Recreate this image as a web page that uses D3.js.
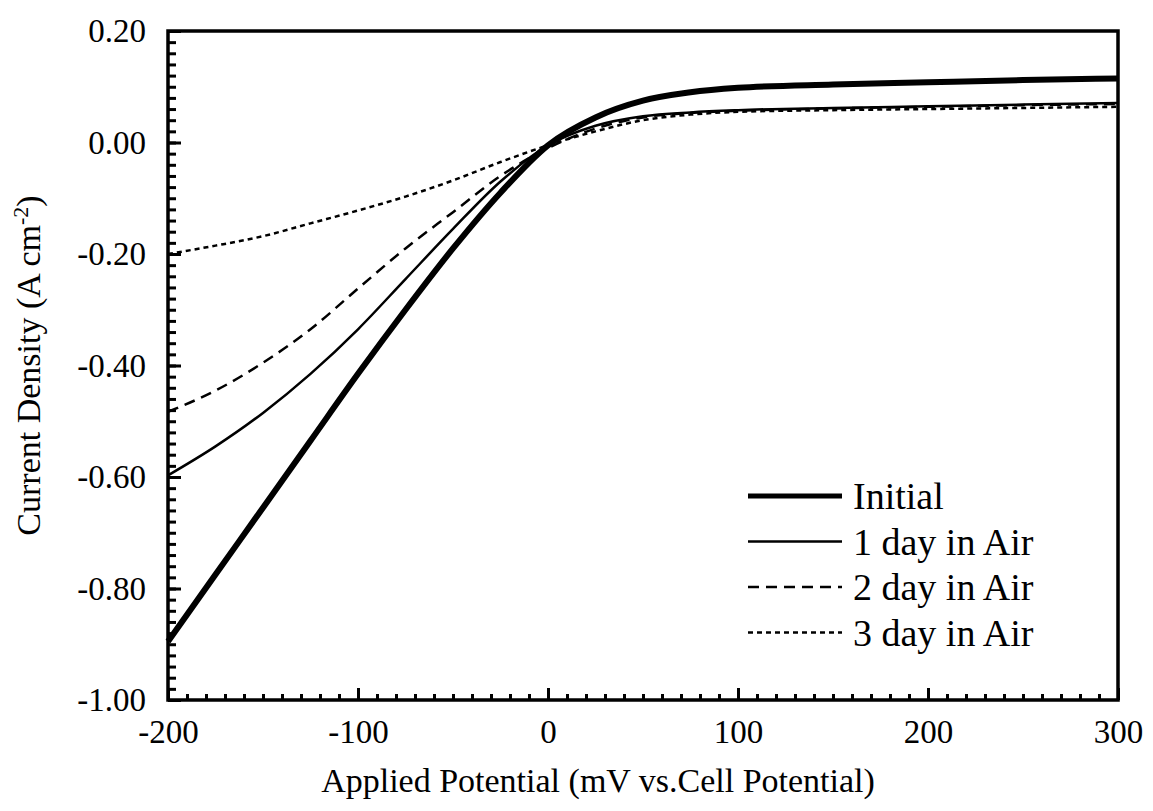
<!DOCTYPE html>
<html>
<head>
<meta charset="utf-8">
<script src="https://cdn.jsdelivr.net/npm/d3@7"></script>
<style>
  body { margin: 0; background: #fff; overflow: hidden; }
  svg { display: block; }
  text { font-family: "Liberation Serif", "Times New Roman", serif; fill: #000; }
</style>
</head>
<body>
<div id="chart"></div>
<script>
// potentials (mV) where the curves were read
const potentials = [-200, -175, -150, -125, -100, -75, -50, -25, 0, 25, 50, 75, 100, 150, 200, 250, 300];

// current density (A cm-2) for each run
const initial  = [-0.895, -0.775, -0.655, -0.535, -0.415, -0.30, -0.19, -0.09, -0.005, 0.045, 0.075, 0.090, 0.098, 0.104, 0.108, 0.112, 0.115];
const day1     = [-0.597, -0.545, -0.485, -0.415, -0.335, -0.245, -0.155, -0.07, -0.005, 0.03, 0.047, 0.054, 0.058, 0.062, 0.065, 0.068, 0.071];
const day2     = [-0.483, -0.445, -0.395, -0.335, -0.262, -0.19, -0.125, -0.06, -0.01, 0.025, 0.045, 0.053, 0.057, 0.061, 0.064, 0.067, 0.069];
const day3     = [-0.200, -0.185, -0.168, -0.145, -0.122, -0.097, -0.068, -0.035, -0.005, 0.02, 0.04, 0.05, 0.055, 0.058, 0.06, 0.062, 0.064];

const seriesNames = ["Initial", "1 day in Air", "2 day in Air", "3 day in Air"];

const xTicks = [-200, -100, 0, 100, 200, 300];
const xTickLabels = ["-200", "-100", "0", "100", "200", "300"];
const yTicks = [0.2, 0, -0.2, -0.4, -0.6, -0.8, -1.0];
const yTickLabels = ["0.20", "0.00", "-0.20", "-0.40", "-0.60", "-0.80", "-1.00"];

const width = 1153, height = 811;
const margin = {top: 31, right: 35, bottom: 111, left: 168};
const innerWidth = width - margin.left - margin.right;
const innerHeight = height - margin.top - margin.bottom;

const styles = [
  {w: 6, dash: null},
  {w: 2.5, dash: null},
  {w: 2.5, dash: "11,7"},
  {w: 2.5, dash: "5,4"}
];

const svg = d3.select("#chart")
  .append("svg")
    .attr("width", width)
    .attr("height", height);

const innerChart = svg
  .append("g")
    .attr("transform", `translate(${margin.left}, ${margin.top})`);

const xScale = d3.scaleLinear()
  .domain([-200, 300])
  .range([0, innerWidth]);

const yScale = d3.scaleLinear()
  .domain([-1.0, 0.2])
  .range([innerHeight, 0]);

// minor ticks drawn inside the frame
const bottomMinor = d3.axisBottom(xScale)
  .tickValues(d3.range(-200, 301, 10))
  .tickSize(-6)
  .tickFormat("")
  .tickSizeOuter(0);
const bottomMajor = d3.axisBottom(xScale)
  .tickValues(xTicks)
  .tickSize(-12)
  .tickPadding(20)
  .tickFormat((d, i) => xTickLabels[i])
  .tickSizeOuter(0);

const leftMinor = d3.axisLeft(yScale)
  .tickValues(d3.range(-50, 11, 1).map(v => v / 50))
  .tickSize(-8)
  .tickFormat("")
  .tickSizeOuter(0);
const leftMajor = d3.axisLeft(yScale)
  .tickValues(yTicks)
  .tickSize(-13)
  .tickPadding(22)
  .tickFormat((d, i) => yTickLabels[i])
  .tickSizeOuter(0);

const styleAxis = g => {
  g.select(".domain").remove();
  g.selectAll("line").attr("stroke", "#000").attr("stroke-width", 3);
  g.selectAll("text").filter(function() { return this.textContent === ""; }).remove();
  g.selectAll("text").attr("font-size", 33).attr("font-family", "Liberation Serif");
};

[bottomMinor, bottomMajor].forEach(ax => {
  innerChart.append("g")
    .attr("transform", `translate(0, ${innerHeight})`)
    .call(ax)
    .call(styleAxis);
});

[leftMinor, leftMajor].forEach(ax => {
  innerChart.append("g")
    .call(ax)
    .call(styleAxis);
});

// frame
innerChart.append("rect")
  .attr("x", 0).attr("y", 0)
  .attr("width", innerWidth).attr("height", innerHeight)
  .attr("fill", "none")
  .attr("stroke", "#000")
  .attr("stroke-width", 3.5);

const lineGen = d3.line()
  .x(d => xScale(d[0]))
  .y(d => yScale(d[1]))
  .curve(d3.curveMonotoneX);

const allSeries = [initial, day1, day2, day3];

innerChart.append("g")
  .selectAll("path")
  .data(allSeries)
  .join("path")
    .attr("d", vals => lineGen(vals.map((v, i) => [potentials[i], v])))
    .attr("fill", "none")
    .attr("stroke", "#000")
    .attr("stroke-width", (d, i) => styles[i].w)
    .attr("stroke-dasharray", (d, i) => styles[i].dash);

// legend
const legend = svg.append("g")
  .attr("transform", "translate(748, 496)");

seriesNames.forEach((name, i) => {
  const row = legend.append("g").attr("transform", `translate(0, ${i * 45.5})`);
  row.append("line")
    .attr("x1", 0).attr("x2", 94)
    .attr("stroke", "#000")
    .attr("stroke-width", styles[i].w === 6 ? 5 : 2.5)
    .attr("stroke-dasharray", styles[i].dash);
  row.append("text")
    .attr("x", 105)
    .attr("dy", "0.35em")
    .attr("font-size", 38)
    .text(name);
});

// axis titles
svg.append("text")
  .attr("x", 598)
  .attr("y", 792)
  .attr("text-anchor", "middle")
  .attr("font-size", 34)
  .text("Applied Potential (mV vs.Cell Potential)");

const yTitle = svg.append("text")
  .attr("transform", `translate(40, ${margin.top + innerHeight / 2}) rotate(-90)`)
  .attr("text-anchor", "middle")
  .attr("font-size", 34);
yTitle.append("tspan").text("Current Density (A cm");
yTitle.append("tspan").attr("font-size", 22).attr("dy", -12).text("-2");
yTitle.append("tspan").attr("dy", 12).text(")");
</script>
</body>
</html>
